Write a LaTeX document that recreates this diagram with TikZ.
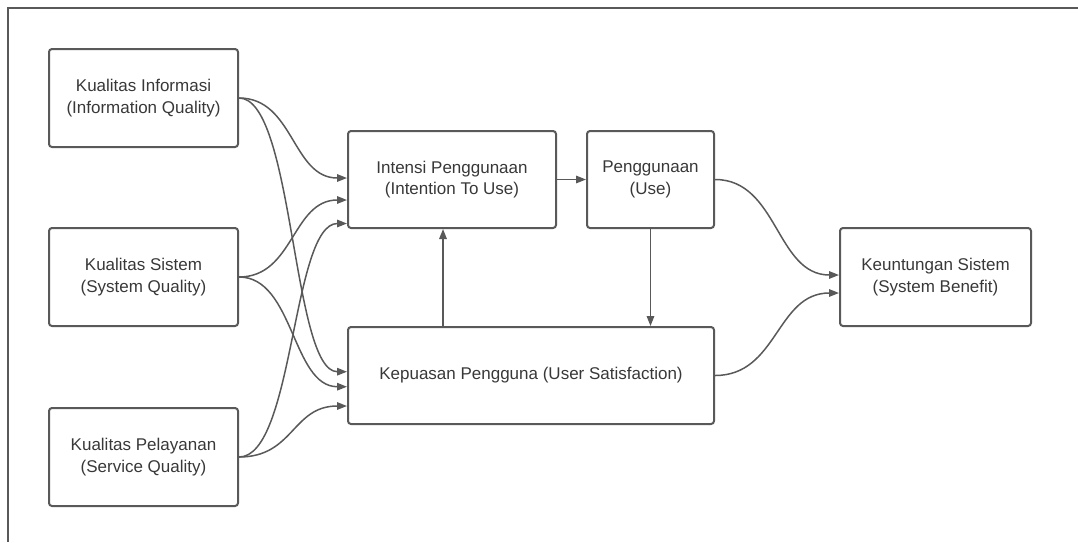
\documentclass[tikz,border=0pt]{standalone}
\usepackage{fontspec}
\setmainfont{Liberation Sans}
\usetikzlibrary{arrows.meta}
\definecolor{linegray}{HTML}{595959}
\definecolor{textgray}{HTML}{383838}
\begin{document}
\begin{tikzpicture}[x=1pt,y=-1pt,
		box/.style={draw=linegray,line width=2pt,rounded corners=3pt,align=center,text=textgray,font=\fontsize{17}{21.5}\selectfont,inner sep=0pt},
		link/.style={draw=linegray,line width=1.5pt,-{Triangle[length=10pt,width=7.5pt]}}]
		\useasboundingbox (0,0) rectangle (1078,542);
		\draw[linegray,line width=1.5pt] (1078,8)--(8,8)--(8,542);
		% boxes
		\node[box,minimum width=189,minimum height=98] (info) at (143.5,98) {Kualitas Informasi\\(Information Quality)};
		\node[box,minimum width=189,minimum height=98] (sistem) at (143.5,277) {Kualitas Sistem\\(System Quality)};
		\node[box,minimum width=189,minimum height=98] (layanan) at (143.5,457) {Kualitas Pelayanan\\(Service Quality)};
		\node[box,minimum width=208,minimum height=97] (intensi) at (452,179.5) {Intensi Penggunaan\\(Intention To Use)};
		\node[box,minimum width=127,minimum height=97] (guna) at (650.5,179.5) {Penggunaan\\(Use)};
		\node[box,minimum width=366,minimum height=97] (puas) at (531,375.5) {Kepuasan Pengguna (User Satisfaction)};
		\node[box,minimum width=191,minimum height=98] (untung) at (935.5,277) {Keuntungan Sistem\\(System Benefit)};
		% curved links
		\draw[link] (info.east) .. controls +(55,0) and +(-55,0) .. ([yshift=1.5pt]intensi.west);
		\draw[link] (info.east) .. controls +(55,0) and +(-55,0) .. ([yshift=3.8pt]puas.west);
		\draw[link] (sistem.east) .. controls +(55,0) and +(-55,0) .. ([yshift=-20.5pt]intensi.west);
		\draw[link] (sistem.east) .. controls +(55,0) and +(-55,0) .. ([yshift=-11.2pt]puas.west);
		\draw[link] (layanan.east) .. controls +(55,0) and +(-55,0) .. ([yshift=-44pt]intensi.west);
		\draw[link] (layanan.east) .. controls +(55,0) and +(-55,0) .. ([yshift=-30.5pt]puas.west);
		\draw[link] (guna.east) .. controls +(63,0) and +(-63,0) .. ([yshift=2pt]untung.west);
		\draw[link] (puas.east) .. controls +(63,0) and +(-63,0) .. ([yshift=-16pt]untung.west);
		% straight links
		\draw[link] (intensi.east)--(guna.west);
		\draw[link] (guna.south)--(guna.south |- puas.north);
		\draw[link] ([xshift=-9pt]intensi.south |- puas.north)--([xshift=-9pt]intensi.south);
	\end{tikzpicture}
\end{document}
